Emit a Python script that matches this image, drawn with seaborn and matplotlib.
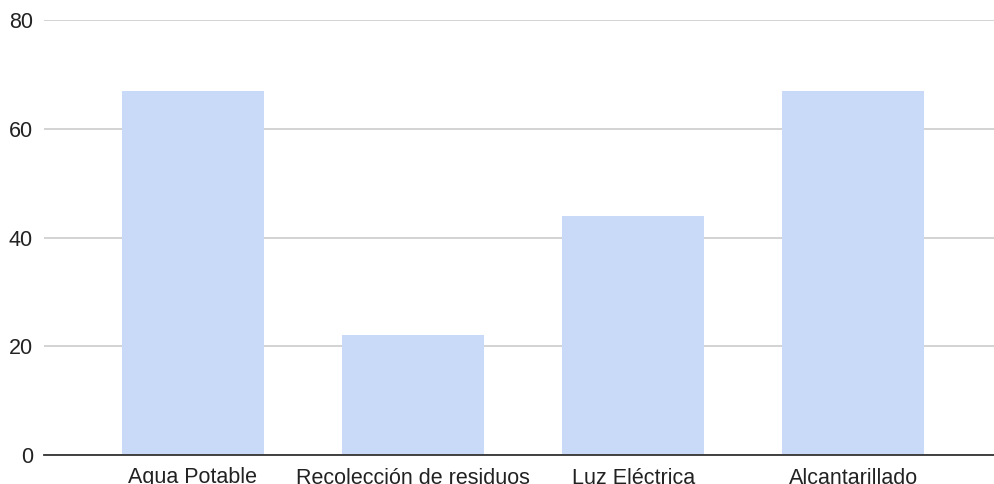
import matplotlib
matplotlib.use("Agg")
import matplotlib.pyplot as plt
import seaborn as sns
import pandas as pd

# Servicios básicos y su porcentaje
servicios = ["Agua Potable", "Recolección de residuos", "Luz Eléctrica", "Alcantarillado"]
valores = [67, 22, 44, 67]
y_ticks = [0, 20, 40, 60, 80]

df = pd.DataFrame({"servicio": servicios, "valor": valores})

sns.set_theme(style="white")
plt.rcParams["font.family"] = ["Liberation Sans", "DejaVu Sans"]

fig = plt.figure(figsize=(9.94, 4.84), dpi=100)
ax = fig.add_axes([44 / 994, 1 - 455 / 484, 950 / 994, 435 / 484])

sns.barplot(data=df, x="servicio", y="valor", color="#c9daf8", saturation=1,
            width=0.645, linewidth=0, ax=ax, zorder=2)

ax.set_ylim(0, 80)
ax.set_xlim(-0.677, 3.64)
ax.set_yticks(y_ticks)
ax.yaxis.grid(True, color="#cccccc", linewidth=1.2, zorder=0)
ax.set_axisbelow(True)
for side in ["left", "right", "top"]:
    ax.spines[side].set_visible(False)
ax.spines["bottom"].set_color("#333333")
ax.spines["bottom"].set_linewidth(1.3)
ax.spines["bottom"].set_zorder(3)

ax.set_xlabel("")
ax.set_ylabel("")
ax.tick_params(axis="both", length=0, labelsize=15.5, labelcolor="#222222")
ax.tick_params(axis="y", pad=8)
ax.tick_params(axis="x", pad=9)

fig.savefig("out.png", dpi=100, facecolor="white")
